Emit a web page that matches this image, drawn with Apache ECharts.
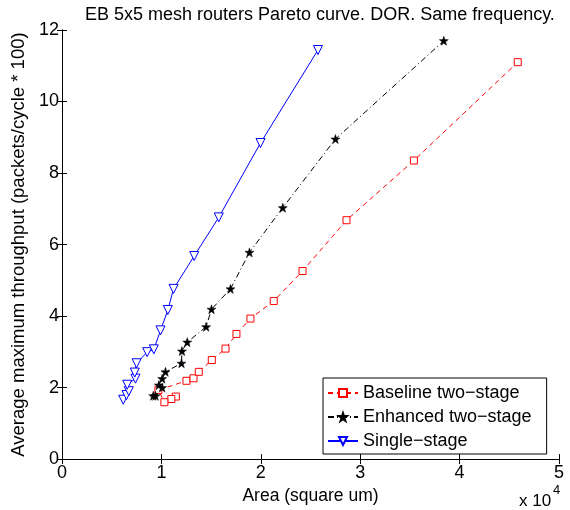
<!DOCTYPE html>
<html>
<head>
<meta charset="utf-8">
<script src="https://cdn.jsdelivr.net/npm/echarts@6/dist/echarts.min.js"></script>
<style>
  html, body { margin: 0; padding: 0; background: #fff; }
  #chart { width: 570px; height: 510px; }
</style>
</head>
<body>
<div id="chart"></div>
<script>
// area in square um, throughput in packets/cycle * 100
const baselineArea = [11450, 11000, 10300, 9700, 12520, 13230, 13760, 15070, 16450, 17550, 18960, 21300, 24200, 28620, 35400, 45850]
const baselineTput = [1.75, 1.68, 1.59, 1.93, 2.19, 2.26, 2.44, 2.77, 3.09, 3.50, 3.93, 4.42, 5.26, 6.68, 8.35, 11.10]

const enhancedArea = [9180, 9410, 10080, 9740, 10080, 10410, 12020, 12070, 12600, 14500, 15040, 16950, 18860, 22210, 27510, 38410]
const enhancedTput = [1.77, 1.77, 2.00, 2.07, 2.25, 2.44, 2.68, 3.02, 3.27, 3.70, 4.19, 4.76, 5.78, 7.03, 8.95, 11.70]

const singleArea = [6160, 6490, 6720, 6560, 7390, 7320, 7500, 8570, 9240, 9910, 10650, 11220, 13300, 15770, 19970, 25750]
const singleTput = [1.66, 1.79, 1.90, 2.08, 2.25, 2.42, 2.68, 2.99, 3.07, 3.60, 4.17, 4.76, 5.68, 6.76, 8.84, 11.44]

const seriesNames = ['Baseline two\u2212stage', 'Enhanced two\u2212stage', 'Single\u2212stage']

const font = 'Liberation Sans, Arial, Helvetica, sans-serif'
const starPath = 'path://M0,-10L2.35,-3.24L9.51,-3.09L3.8,1.24L5.88,8.09L0,4L-5.88,8.09L-3.8,1.24L-9.51,-3.09L-2.35,-3.24Z'

const zip = (xs, ys) => xs.map((x, i) => [x, ys[i]])

const myChart = echarts.init(document.getElementById('chart'))

const xBase = {
    type: 'value',
    min: 0,
    max: 50000,
    interval: 10000,
    axisLine: { show: true, lineStyle: { color: '#000', width: 1 } },
    axisTick: { show: true, inside: true, length: 5, lineStyle: { color: '#000' } },
    splitLine: { show: false }
}
const yBase = {
    type: 'value',
    min: 0,
    max: 12,
    interval: 2,
    axisLine: { show: true, lineStyle: { color: '#000', width: 1 } },
    axisTick: { show: true, inside: true, length: 5, lineStyle: { color: '#000' } },
    splitLine: { show: false }
}

const option = {
    animation: false,
    backgroundColor: '#fff',
    textStyle: { fontFamily: font },
    title: {
        text: 'EB 5x5 mesh routers Pareto curve. DOR. Same frequency.',
        left: 80,
        top: 1,
        textStyle: { fontFamily: font, fontSize: 18, fontWeight: 'normal', color: '#000' }
    },
    grid: { left: 62, right: 11, top: 30, bottom: 46 },
    legend: {
        orient: 'vertical',
        left: 323,
        top: 378,
        padding: [5, 15, 3, 4],
        itemWidth: 30,
        itemHeight: 10,
        itemGap: 4,
        backgroundColor: '#fff',
        borderColor: '#000',
        borderWidth: 1,
        borderRadius: 0,
        textStyle: { fontFamily: font, fontSize: 18, color: '#000', lineHeight: 20 },
        data: seriesNames
    },
    xAxis: [
        Object.assign({}, xBase, {
            position: 'bottom',
            name: 'Area (square um)',
            nameLocation: 'middle',
            nameGap: 23,
            nameTextStyle: { fontFamily: font, fontSize: 17.5, color: '#000' },
            axisLabel: {
                color: '#000', fontSize: 18, fontFamily: font, margin: 5,
                formatter: v => String(v / 10000)
            }
        }),
        Object.assign({}, xBase, { position: 'top', axisLabel: { show: false } })
    ],
    yAxis: [
        Object.assign({}, yBase, {
            position: 'left',
            name: 'Average maximum throughput (packets/cycle * 100)',
            nameLocation: 'middle',
            nameGap: 18,
            nameTextStyle: { fontFamily: font, fontSize: 18.5, color: '#000' },
            axisLabel: { color: '#000', fontSize: 18, fontFamily: font, margin: 3 }
        }),
        Object.assign({}, yBase, { position: 'right', axisLabel: { show: false } })
    ],
    graphic: [
        {
            type: 'text',
            left: 519,
            top: 493,
            style: { text: 'x 10', font: '17px ' + font, fill: '#000' }
        },
        {
            type: 'text',
            left: 553,
            top: 484,
            style: { text: '4', font: '13px ' + font, fill: '#000' }
        }
    ],
    series: [
        {
            name: seriesNames[0],
            type: 'line',
            data: zip(baselineArea, baselineTput),
            symbol: 'rect',
            symbolSize: 7,
            lineStyle: { color: '#ff0000', width: 1, type: [5, 4] },
            itemStyle: { color: '#fff', borderColor: '#ff0000', borderWidth: 1 },
            z: 3
        },
        {
            name: seriesNames[1],
            type: 'line',
            data: zip(enhancedArea, enhancedTput),
            symbol: starPath,
            symbolSize: 9,
            lineStyle: { color: '#000', width: 1, type: [6, 3, 1, 3] },
            itemStyle: { color: '#000', borderColor: '#000', borderWidth: 0.5 },
            z: 4
        },
        {
            name: seriesNames[2],
            type: 'line',
            data: zip(singleArea, singleTput),
            symbol: 'triangle',
            symbolRotate: 180,
            symbolSize: 9,
            lineStyle: { color: '#0000ff', width: 1, type: 'solid' },
            itemStyle: { color: '#fff', borderColor: '#0000ff', borderWidth: 1 },
            z: 5
        }
    ]
}

myChart.setOption(option)
</script>
</body>
</html>
